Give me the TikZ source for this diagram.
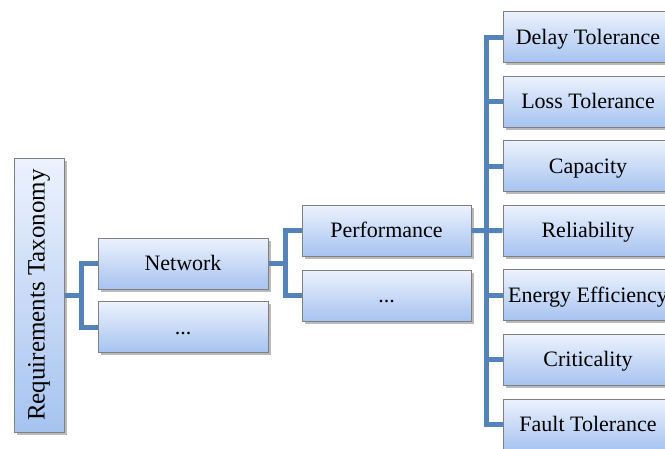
\documentclass[tikz,border=0pt]{standalone}
\usepackage{fontspec}
\setmainfont{Liberation Serif}
\usetikzlibrary{shadows,calc}
\definecolor{boxtop}{RGB}{236,242,253}
\definecolor{boxbot}{RGB}{166,195,240}
\definecolor{boxline}{RGB}{128,128,128}
\definecolor{connc}{RGB}{84,130,187}
\begin{document}
\begin{tikzpicture}[x=1pt,y=-1pt,
  box/.style={draw=boxline, line width=1pt, top color=boxtop, bottom color=boxbot,
    minimum width=170pt, minimum height=51pt, inner sep=0pt,
    font=\fontsize{22}{25}\selectfont,
    drop shadow={shadow xshift=2.5pt, shadow yshift=-2.5pt, fill=black!60, opacity=.45}},
  lbl/.style={text height=15pt, text depth=1pt},
  link/.style={draw=connc, line width=5pt}]
\useasboundingbox (0,0) rectangle (665,448);
\clip (0,0) rectangle (665,448);
% nodes
\node[box, minimum width=50pt, minimum height=274pt, font=\fontsize{25}{28}\selectfont] (rt) at (39,295) {\rotatebox{90}{Requirements Taxonomy}};
\node[box, lbl] (net) at (183,263.5) {Network};
\node[box, lbl] (d1) at (183,327) {...};
\node[box, lbl, minimum width=169pt] (perf) at (386.5,230.5) {Performance};
\node[box, lbl, minimum width=169pt] (d2) at (386.5,295.5) {...};
\node[box, lbl] (r1) at (588,37) {Delay Tolerance};
\node[box, lbl] (r2) at (588,101.6) {Loss Tolerance};
\node[box, lbl] (r3) at (588,166.2) {Capacity};
\node[box, lbl] (r4) at (588,230.7) {Reliability};
\node[box, lbl] (r5) at (588,295.3) {Energy Efficiency};
\node[box, lbl] (r6) at (588,359.9) {Criticality};
\node[box, lbl] (r7) at (588,424.5) {Fault Tolerance};
% junctions
\coordinate (j1) at (81,295);
\coordinate (j2) at (285,263.5);
% connectors
\draw[link] (rt.east) -- (j1);
\draw[link] (net.west) -| (j1) |- (d1.west);
\draw[link] (net.east) -- (j2);
\draw[link] (perf.west) -| (j2) |- (d2.west);
\draw[link] (r1.west) -| ($(r7.west)+(-16,0)$) -- (r7.west);
\draw[link] (perf.east) -- (r4.west);
\foreach \n in {r2,r3,r5,r6} \draw[link] (\n.west) -- ++(-18,0);
\end{tikzpicture}
\end{document}
